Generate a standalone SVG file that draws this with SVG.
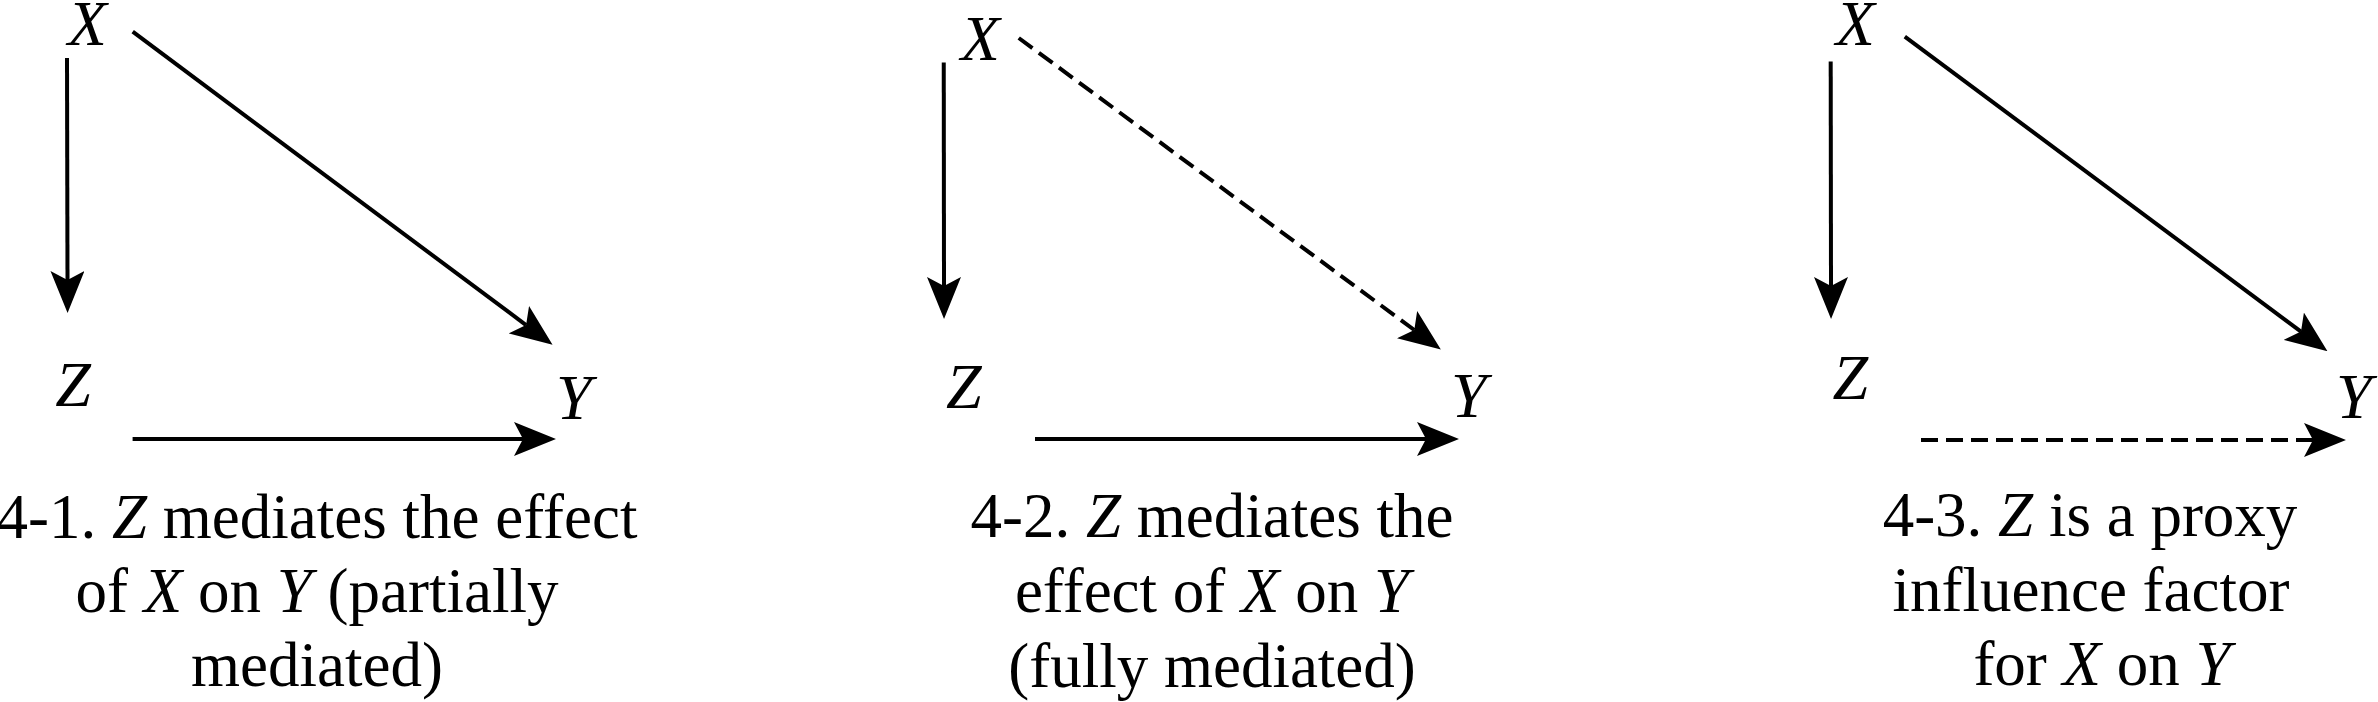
<svg xmlns="http://www.w3.org/2000/svg" width="2378" height="702" viewBox="0 0 2378 702">
<style>
text{font-family:"Liberation Serif","Times New Roman",serif;fill:#000}
.v{font-size:64px;font-style:italic}
.cap{font-size:63px;text-anchor:middle}
.i{font-style:italic}
.ln{fill:none;stroke:#000;stroke-width:4}
.dash{stroke-dasharray:17 8}
</style>
<defs>
<marker id="ah" markerUnits="userSpaceOnUse" viewBox="0 0 42 34" markerWidth="42" markerHeight="34" refX="9" refY="17" orient="auto">
<path d="M0,0 L42,17 L0,34 L9,17 Z" fill="#000" stroke="none"/>
</marker>
</defs>
<rect width="2378" height="702" fill="#fff"/>
<g id="connectors">
<path class="ln" d="M67,58 L67.5,280" marker-end="url(#ah)"/>
<path class="ln" d="M132.7,31.7 L526.1,325.1" marker-end="url(#ah)"/>
<path class="ln" d="M132.6,439 L523,439" marker-end="url(#ah)"/>
<path class="ln" d="M943.75,62.5 L944,286" marker-end="url(#ah)"/>
<path class="ln dash" d="M1018.75,38 L1414.3,330" marker-end="url(#ah)"/>
<path class="ln" d="M1035,439 L1426,439" marker-end="url(#ah)"/>
<path class="ln" d="M1830.7,61.6 L1831,286" marker-end="url(#ah)"/>
<path class="ln" d="M1904.8,36.6 L2301,331.6" marker-end="url(#ah)"/>
<path class="ln dash" d="M1921,440 L2313,440" marker-end="url(#ah)"/>
</g>
<g id="p1-x"><text class="v" x="67.8" y="45">X</text></g>
<g id="p1-z"><text class="v" x="55.3" y="406">Z</text></g>
<g id="p1-y"><text class="v" x="556" y="419">Y</text></g>
<g id="p2-x"><text class="v" x="960.8" y="60">X</text></g>
<g id="p2-z"><text class="v" x="946.1" y="408">Z</text></g>
<g id="p2-y"><text class="v" x="1451" y="417">Y</text></g>
<g id="p3-x"><text class="v" x="1835.8" y="45">X</text></g>
<g id="p3-z"><text class="v" x="1832.6" y="399">Z</text></g>
<g id="p3-y"><text class="v" x="2336" y="418">Y</text></g>
<g id="caption-1">
<text class="cap" x="317" y="538">4-1. <tspan class="i">Z</tspan> mediates the effect</text>
<text class="cap" x="317" y="612">of <tspan class="i">X</tspan> on <tspan class="i">Y</tspan> (partially</text>
<text class="cap" x="317" y="686">mediated)</text>
</g>
<g id="caption-2">
<text class="cap" x="1212" y="537">4-2. <tspan class="i">Z</tspan> mediates the</text>
<text class="cap" x="1212" y="612">effect of <tspan class="i">X</tspan> on <tspan class="i">Y</tspan></text>
<text class="cap" x="1212" y="687">(fully mediated)</text>
</g>
<g id="caption-3">
<text class="cap" x="2090" y="536">4-3. <tspan class="i">Z</tspan> is a proxy</text>
<text class="cap" x="2091" y="611">influence factor</text>
<text class="cap" x="2102" y="685">for <tspan class="i">X</tspan> on <tspan class="i">Y</tspan></text>
</g>
</svg>
